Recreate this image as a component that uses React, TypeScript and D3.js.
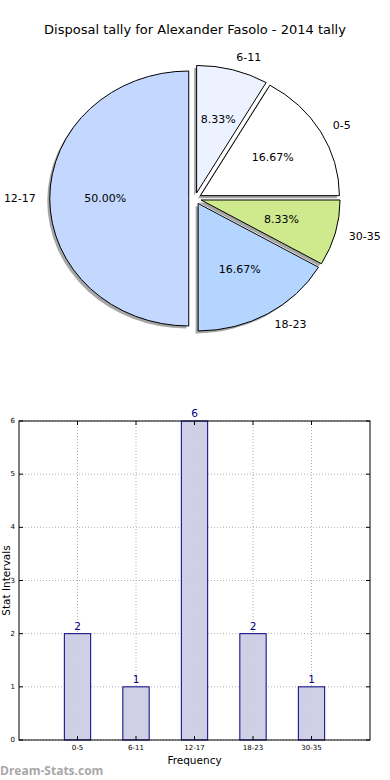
import * as d3 from "d3";

const categories = ["0-5", "6-11", "12-17", "18-23", "30-35"];
const counts = [2, 1, 6, 2, 1];
const sliceColors = ["#FFFFFF", "#ECF2FF", "#C4D8FF", "#B4D5FF", "#CFEA8C"];
const yTicks = [0, 1, 2, 3, 4, 5, 6];

const W = 390;
const H = 780;
const font = "DejaVu Sans, sans-serif";

// pie geometry (ellipse, like matplotlib without equal aspect)
const pie = { cx: 195, cy: 198.5, rx: 139, ry: 127.5, explode: 0.045 };
// bar axes box
const box = { left: 19, right: 370, top: 421, bottom: 740 };

export default function App() {
  const total = d3.sum(counts);
  const arcs = d3
    .pie<number>()
    .sort(null)
    .startAngle(Math.PI / 2)
    .endAngle(Math.PI / 2 - 2 * Math.PI)(counts);
  const arcGen = d3.arc<d3.PieArcDatum<number>>().innerRadius(0).outerRadius(1);

  const slices = arcs.map((a, i) => {
    const mid = (a.startAngle + a.endAngle) / 2;
    const ux = Math.sin(mid);
    const uy = -Math.cos(mid);
    const ox = pie.cx + pie.explode * pie.rx * ux;
    const oy = pie.cy + pie.explode * pie.ry * uy;
    return {
      d: arcGen(a) as string,
      ox,
      oy,
      ux,
      uy,
      color: sliceColors[i],
      label: categories[i],
      pct: ((100 * counts[i]) / total).toFixed(2) + "%",
    };
  });

  const x = d3.scaleLinear().domain([0, categories.length + 1]).range([box.left, box.right]);
  const y = d3.scaleLinear().domain([0, 6]).range([box.bottom, box.top]);
  const barW = x(0.45) - x(0);

  return (
    <svg width={W} height={H} style={{ position: "absolute", left: 0, top: 0, background: "#fff" }}>
      <text x={195} y={34} textAnchor="middle" fontFamily={font} fontSize={13}>
        Disposal tally for Alexander Fasolo - 2014 tally
      </text>

      {/* shadows */}
      {slices.map((s, i) => (
        <path
          key={"sh" + i}
          d={s.d}
          transform={`translate(${s.ox - 2.5},${s.oy + 2.5}) scale(${pie.rx},${pie.ry})`}
          fill="#4d4d4d"
          fillOpacity={0.5}
        />
      ))}
      {slices.map((s, i) => (
        <path
          key={"sl" + i}
          d={s.d}
          transform={`translate(${s.ox},${s.oy}) scale(${pie.rx},${pie.ry})`}
          fill={s.color}
          stroke="#000"
          strokeWidth={1}
          vectorEffect="non-scaling-stroke"
          strokeLinejoin="round"
        />
      ))}
      {slices.map((s, i) => (
        <text
          key={"pc" + i}
          x={s.ox + 0.6 * pie.rx * s.ux}
          y={s.oy + 0.6 * pie.ry * s.uy}
          textAnchor="middle"
          dominantBaseline="central"
          fontFamily={font}
          fontSize={11}
        >
          {s.pct}
        </text>
      ))}
      {slices.map((s, i) => (
        <text
          key={"lb" + i}
          x={s.ox + 1.1 * pie.rx * s.ux}
          y={s.oy + 1.1 * pie.ry * s.uy}
          textAnchor={s.ux > 0 ? "start" : "end"}
          dominantBaseline="central"
          fontFamily={font}
          fontSize={11}
        >
          {s.label}
        </text>
      ))}

      {/* bar chart */}
      {yTicks.map((t) => (
        <line
          key={"gy" + t}
          x1={box.left}
          x2={box.right}
          y1={y(t)}
          y2={y(t)}
          stroke="#b0b0b0"
          strokeDasharray="1,2"
        />
      ))}
      {categories.map((c, i) => (
        <line
          key={"gx" + c}
          x1={x(i + 1)}
          x2={x(i + 1)}
          y1={box.top}
          y2={box.bottom}
          stroke="#b0b0b0"
          strokeDasharray="1,2"
        />
      ))}
      {counts.map((v, i) => (
        <g key={"b" + i}>
          <rect
            x={x(i + 1) - barW / 2}
            y={y(v)}
            width={barW}
            height={y(0) - y(v)}
            fill="#CCCCE5"
            fillOpacity={0.95}
            stroke="#000080"
            strokeWidth={1}
          />
          <text
            x={x(i + 1)}
            y={y(v) - 4}
            textAnchor="middle"
            fontFamily={font}
            fontSize={10.5}
            fill="#000080"
          >
            {v}
          </text>
        </g>
      ))}
      <rect
        x={box.left}
        y={box.top}
        width={box.right - box.left}
        height={box.bottom - box.top}
        fill="none"
        stroke="#000"
        strokeWidth={1}
      />
      {yTicks.map((t) => (
        <g key={"ty" + t}>
          <line x1={box.left} x2={box.left + 4} y1={y(t)} y2={y(t)} stroke="#000" />
          <line x1={box.right - 4} x2={box.right} y1={y(t)} y2={y(t)} stroke="#000" />
          <text
            x={box.left - 4}
            y={y(t)}
            textAnchor="end"
            dominantBaseline="central"
            fontFamily={font}
            fontSize={7}
          >
            {t}
          </text>
        </g>
      ))}
      {categories.map((c, i) => (
        <g key={"tx" + c}>
          <line x1={x(i + 1)} x2={x(i + 1)} y1={box.bottom} y2={box.bottom - 4} stroke="#000" />
          <line x1={x(i + 1)} x2={x(i + 1)} y1={box.top} y2={box.top + 4} stroke="#000" />
          <text
            x={x(i + 1)}
            y={box.bottom + 10}
            textAnchor="middle"
            fontFamily={font}
            fontSize={7}
          >
            {c}
          </text>
        </g>
      ))}
      <text
        x={(box.left + box.right) / 2}
        y={box.bottom + 24}
        textAnchor="middle"
        fontFamily={font}
        fontSize={10.5}
      >
        Frequency
      </text>
      <text
        transform={`translate(9.5,${(box.top + box.bottom) / 2}) rotate(-90)`}
        textAnchor="middle"
        fontFamily={font}
        fontSize={10.5}
      >
        Stat Intervals
      </text>
      <text x={0} y={775} fontFamily="Open Sans, sans-serif" fontWeight={700} fontSize={12} fill="#a8a8a8">
        Dream-Stats.com
      </text>
    </svg>
  );
}
